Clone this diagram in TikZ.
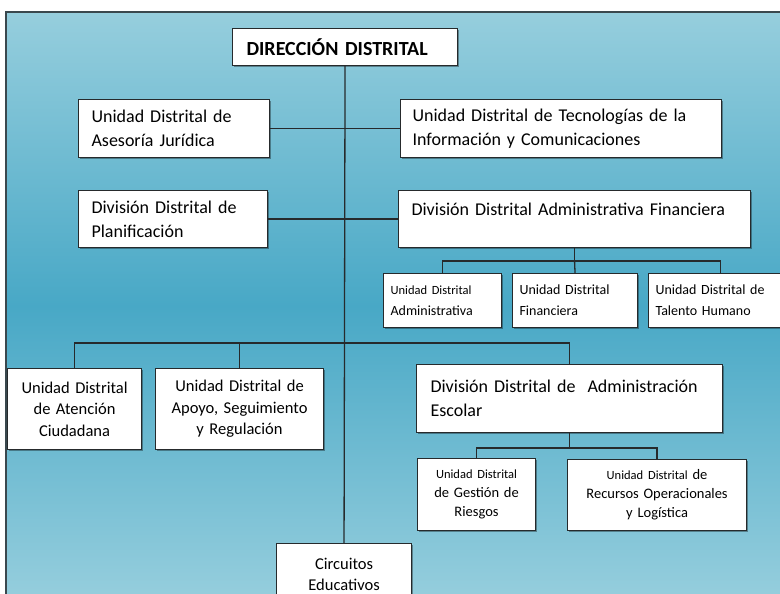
\documentclass[tikz,border=0pt]{standalone}
\usepackage{fontspec}
\setmainfont{Carlito}
\usetikzlibrary{shadows}
\definecolor{bgtop}{RGB}{150,206,221}
\definecolor{bgmid}{RGB}{72,168,198}
\definecolor{boxline}{RGB}{38,42,44}
\definecolor{frameline}{RGB}{58,72,78}

\newcommand{\bigtxt}{\fontsize{18}{24}\selectfont}
\newcommand{\lowtxt}{\fontsize{16.5}{21.5}\selectfont}
\newcommand{\smalltxt}{\fontsize{14}{21}\selectfont}
\newcommand{\tinytxt}{\fontsize{12.5}{19}\selectfont}

\tikzset{
  unit/.style={draw=boxline, fill=white, line width=1.1pt, anchor=north west,
    inner xsep=13pt, inner ysep=0pt,
    drop shadow={shadow xshift=1pt, shadow yshift=-1pt, opacity=0.35, fill=black}},
  wire/.style={draw=boxline, line width=1.3pt},
}

\begin{document}
\begin{tikzpicture}[x=1pt, y=-1pt]
  \clip (0,0) rectangle (780,594);
  \useasboundingbox (0,0) rectangle (780,594);
  % background panel
  \shade[top color=bgtop, bottom color=bgtop, middle color=bgmid] (6,12) rectangle (790,600);
  \draw[frameline, line width=1.6pt] (790,12) -- (6,12) -- (6,600);

  % top level
  \node[unit, align=left, text width=197pt, minimum height=37pt, inner xsep=14pt,
    font=\fontsize{20}{24}\selectfont\bfseries] (dir) at (232,28) {DIRECCIÓN DISTRITAL};

  \node[unit, align=left, text width=165pt, minimum height=58pt, font=\bigtxt] (asesoria) at (78,99)
    {Unidad Distrital de\\Asesoría Jurídica};
  \node[unit, align=left, text width=297pt, minimum height=58pt, inner xsep=12pt, font=\bigtxt] (tic) at (400,99)
    {Unidad Distrital de Tecnologías de la\\Información y Comunicaciones};

  \node[unit, align=left, text width=163pt, minimum height=57pt, font=\bigtxt] (planif) at (78,190)
    {División Distrital de\\Planificación};
  \node[unit, align=left, text width=326pt, minimum height=57pt, font=\bigtxt] (dafin) at (398,190)
    {División Distrital Administrativa Financiera\\[-12pt]\strut};

  % units under the financial division
  \node[unit, align=left, text width=104pt, minimum height=54pt, inner xsep=7pt, font=\smalltxt] (uadmin) at (383,273)
    {{\tinytxt Unidad Distrital}\\Administrativa};
  \node[unit, align=left, text width=111pt, minimum height=54pt, inner xsep=7pt, font=\smalltxt] (ufin) at (512,273)
    {Unidad Distrital\\Financiera};
  \node[unit, align=left, text width=130pt, minimum height=54pt, inner xsep=7pt, font=\smalltxt] (utalento) at (648,273)
    {Unidad Distrital de\\Talento Humano};

  % third row
  \node[unit, align=center, text width=124pt, minimum height=81pt, inner xsep=5pt, font=\lowtxt] (atencion) at (7,368)
    {Unidad Distrital\\de Atención\\Ciudadana};
  \node[unit, align=center, text width=158pt, minimum height=81pt, inner xsep=5pt, font=\lowtxt] (apoyo) at (155,368)
    {Unidad Distrital de\\Apoyo, Seguimiento\\y Regulación};
  \node[unit, align=left, text width=278pt, minimum height=68pt, inner xsep=14pt, font=\bigtxt] (escolar) at (416,364)
    {División Distrital de\ \ Administración\\Escolar};

  % units under the school administration division
  \node[unit, align=center, text width=108pt, minimum height=72pt, inner xsep=5pt,
    font=\fontsize{14.5}{19}\selectfont] (riesgos) at (417,458)
    {{\tinytxt Unidad Distrital}\\de Gestión de\\Riesgos};
  \node[unit, align=center, text width=169pt, minimum height=71pt, inner xsep=5pt,
    font=\fontsize{14.5}{19}\selectfont] (recursos) at (567,459)
    {{\tinytxt Unidad Distrital} de\\Recursos Operacionales\\y Logística};

  \node[unit, align=center, text width=125pt, minimum height=62pt, inner xsep=5pt, font=\lowtxt] (circuitos) at (276,543)
    {Circuitos\\Educativos};

  % connectors
  \coordinate (bus) at (344,343);
  \draw[wire] (dir.south) -- (circuitos.north);
  \draw[wire] (asesoria.east) -- (tic.west);
  \draw[wire] (planif.east) -- (dafin.west);
  \draw[wire] (dafin.south) -- ++(0,13) coordinate (fbus);
  \draw[wire] (uadmin.north) |- (fbus) -| (utalento.north);
  \draw[wire] (fbus) -- (ufin.north);
  \draw[wire] (atencion.north) |- (bus) -| (escolar.north);
  \draw[wire] (apoyo.north) -- (apoyo.north |- bus);
  \draw[wire] (escolar.south) -- ++(0,15) coordinate (ebus);
  \draw[wire] (riesgos.north) |- (ebus) -| (recursos.north);
\end{tikzpicture}
\end{document}
